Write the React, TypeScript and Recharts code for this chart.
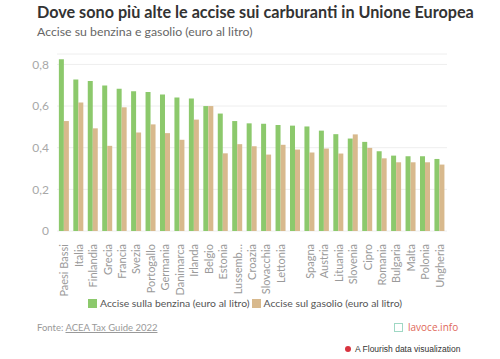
import { Bar, BarChart, CartesianGrid, Legend, XAxis, YAxis } from "recharts";

const countries = [
  "Paesi Bassi", "Italia", "Finlandia", "Grecia", "Francia", "Svezia", "Portogallo",
  "Germania", "Danimarca", "Irlanda", "Belgio", "Estonia", "Lussemburgo", "Croazia",
  "Slovacchia", "Lettonia", "Repubblica Ceca", "Spagna", "Austria", "Lituania",
  "Slovenia", "Cipro", "Romania", "Bulgaria", "Malta", "Polonia", "Ungheria",
];

// labels as shown under the axis (one is hidden, one is cut)
const tickLabels = [
  "Paesi Bassi", "Italia", "Finlandia", "Grecia", "Francia", "Svezia", "Portogallo",
  "Germania", "Danimarca", "Irlanda", "Belgio", "Estonia", "Lussemb…", "Croazia",
  "Slovacchia", "Lettonia", "", "Spagna", "Austria", "Lituania",
  "Slovenia", "Cipro", "Romania", "Bulgaria", "Malta", "Polonia", "Ungheria",
];

const benzina = [
  0.825, 0.728, 0.72, 0.699, 0.683, 0.671, 0.667, 0.655, 0.641, 0.636, 0.6, 0.564,
  0.528, 0.517, 0.515, 0.509, 0.506, 0.502, 0.482, 0.465, 0.444, 0.428, 0.383,
  0.362, 0.359, 0.359, 0.346,
];

const gasolio = [
  0.528, 0.617, 0.493, 0.409, 0.594, 0.473, 0.512, 0.47, 0.438, 0.535, 0.6, 0.373,
  0.417, 0.407, 0.367, 0.414, 0.391, 0.377, 0.396, 0.372, 0.464, 0.399, 0.349,
  0.33, 0.33, 0.33, 0.319,
];

const yTicks = [0, 0.2, 0.4, 0.6, 0.8];

const series = [
  { key: "benzina", name: "Accise sulla benzina (euro al litro)", color: "#8cc96c" },
  { key: "gasolio", name: "Accise sul gasolio (euro al litro)", color: "#d8b98d" },
];

const data = countries.map((name, i) => ({
  name,
  benzina: benzina[i],
  gasolio: gasolio[i],
}));

const FONT = "Lato, 'Noto Sans', sans-serif";

function CountryTick(props: any) {
  const { x, y, index } = props;
  return (
    <text
      x={0}
      y={0}
      transform={`translate(${x + 4},${y + 5}) rotate(-90)`}
      textAnchor="end"
      fill="#9a9a9a"
      fontSize={11}
      fontFamily={FONT}
    >
      {tickLabels[index]}
    </text>
  );
}

function LegendRow() {
  return (
    <div
      style={{
        display: "flex",
        alignItems: "center",
        fontSize: 10.4,
        color: "#555",
        fontFamily: FONT,
        height: 18,
        paddingLeft: 88,
      }}
    >
      {series.map((s) => (
        <span key={s.key} style={{ display: "flex", alignItems: "center", marginRight: 2 }}>
          <span
            style={{ width: 9, height: 9, background: s.color, display: "inline-block", marginRight: 3 }}
          />
          {s.name}
        </span>
      ))}
    </div>
  );
}

export default function App() {
  return (
    <div
      style={{
        position: "absolute",
        left: 0,
        top: 0,
        width: 500,
        height: 359,
        background: "#fff",
        fontFamily: FONT,
      }}
    >
      <div
        style={{
          position: "absolute",
          left: 37,
          top: 2,
          fontSize: 16.2,
          fontWeight: 700,
          color: "#333",
          whiteSpace: "nowrap",
        }}
      >
        Dove sono più alte le accise sui carburanti in Unione Europea
      </div>
      <div
        style={{
          position: "absolute",
          left: 37,
          top: 24,
          fontSize: 12.3,
          color: "#666",
          whiteSpace: "nowrap",
        }}
      >
        Accise su benzina e gasolio (euro al litro)
      </div>

      <div style={{ position: "absolute", left: 0, top: 0 }}>
        <BarChart
          width={500}
          height={312}
          data={data}
          margin={{ top: 54, right: 53, left: 0, bottom: 0 }}
          barCategoryGap="13%"
          barGap={0}
        >
          <CartesianGrid stroke="#eeeeee" vertical={false} />
          <XAxis
            dataKey="name"
            interval={0}
            axisLine={false}
            tickLine={false}
            height={63}
            tick={<CountryTick />}
          />
          <YAxis
            type="number"
            domain={[0, 0.85]}
            ticks={yTicks}
            width={57}
            axisLine={false}
            tickLine={false}
            tickSize={0}
            tickMargin={8}
            tick={{ fill: "#a8a8a8", fontSize: 12, fontFamily: FONT }}
            tickFormatter={(v) => String(v).replace(".", ",")}
          />
          <Legend verticalAlign="bottom" align="center" height={18} content={() => <LegendRow />} />
          {series.map((s) => (
            <Bar
              key={s.key}
              dataKey={s.key}
              name={s.name}
              fill={s.color}
              isAnimationActive={false}
            />
          ))}
        </BarChart>
      </div>

      <div
        style={{
          position: "absolute",
          left: 37,
          top: 322,
          fontSize: 9.5,
          color: "#999",
          whiteSpace: "nowrap",
        }}
      >
        Fonte: <span style={{ textDecoration: "underline" }}>ACEA Tax Guide 2022</span>
      </div>

      <div
        style={{
          position: "absolute",
          left: 394,
          top: 320,
          display: "flex",
          alignItems: "center",
          gap: 5,
        }}
      >
        <div
          style={{
            width: 7,
            height: 7,
            border: "1.5px solid #9fd8c4",
            background: "#fff",
          }}
        />
        <span style={{ fontSize: 10, color: "#e0675a", fontFamily: "'Open Sans', sans-serif" }}>
          lavoce.info
        </span>
      </div>

      <div
        style={{
          position: "absolute",
          left: 345,
          top: 344,
          display: "flex",
          alignItems: "center",
          gap: 4,
          fontSize: 8.5,
          color: "#333",
          fontFamily: "'Liberation Sans', Arial, sans-serif",
        }}
      >
        <div
          style={{
            width: 6,
            height: 6,
            borderRadius: 3,
            background: "#d8333f",
          }}
        />
        A Flourish data visualization
      </div>
    </div>
  );
}
